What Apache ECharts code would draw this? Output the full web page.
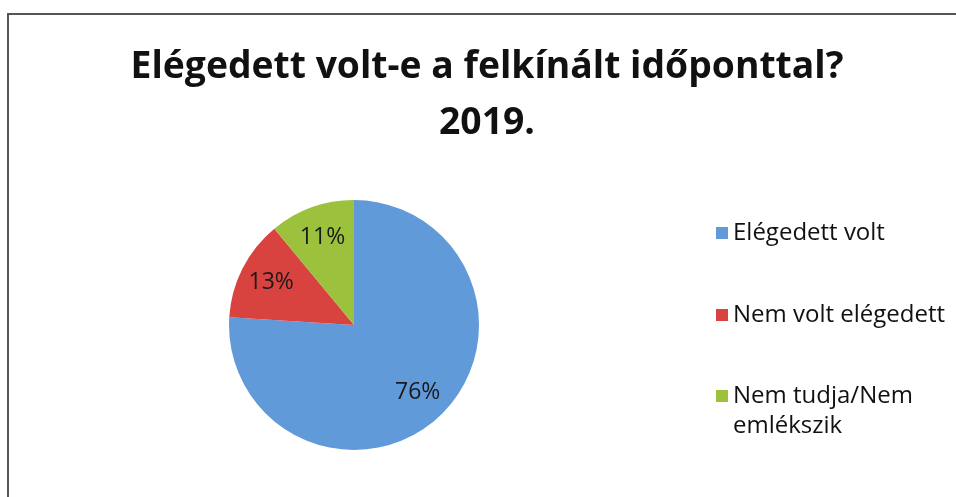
<!DOCTYPE html>
<html>
<head>
<meta charset="utf-8">
<script src="https://cdn.jsdelivr.net/npm/echarts@6/dist/echarts.min.js"></script>
<style>
  html, body { margin: 0; padding: 0; background: #ffffff; }
  #chart { width: 956px; height: 497px; }
</style>
</head>
<body>
<div id="chart"></div>
<script>
// Survey answers (percent of respondents)
const categories = ['Elégedett volt', 'Nem volt elégedett', 'Nem tudja/Nem\nemlékszik'];
const shares = [76, 13, 11];
const colors = ['#619ad8', '#d8423f', '#9cc23d'];

const titleText = 'Elégedett volt-e a felkínált időponttal?\n2019.';
const FONT = '"Open Sans", "DejaVu Sans", sans-serif';

const pieData = categories.map((name, i) => ({
  name: name,
  value: shares[i],
  itemStyle: { color: colors[i] }
}));

const legendText = {
  fontFamily: FONT,
  fontSize: 24,
  lineHeight: 30,
  color: '#111'
};

function legendFor(i, top, formatter) {
  return {
    data: [categories[i]],
    orient: 'vertical',
    left: 716,
    top: top,
    padding: 0,
    itemWidth: 12,
    itemHeight: 12,
    itemGap: 0,
    icon: 'rect',
    selectedMode: false,
    formatter: formatter || '{name}',
    textStyle: legendText
  };
}

const chart = echarts.init(document.getElementById('chart'), null, { renderer: 'canvas' });

chart.setOption({
  backgroundColor: '#ffffff',
  animation: false,
  title: {
    text: titleText,
    left: 482,
    top: 34,
    textAlign: 'center',
    textStyle: {
      fontFamily: FONT,
      fontWeight: 'bold',
      fontSize: 37.3,
      lineHeight: 56,
      color: '#111'
    }
  },
  legend: [
    legendFor(0, 218),
    legendFor(1, 300),
    // two-line entry: an empty leading line keeps the first line beside the marker
    legendFor(2, 351, '\n{name}')
  ],
  graphic: [{
    type: 'polyline',
    shape: { points: [[8, 497], [8, 14], [956, 14]] },
    style: { stroke: '#555555', lineWidth: 2, fill: null },
    silent: true
  }],
  series: [
    {
      type: 'pie',
      center: [354, 325],
      radius: [0, 125],
      startAngle: 90,
      clockwise: true,
      data: pieData,
      label: { show: false },
      labelLine: { show: false },
      emphasis: { disabled: true }
    },
    {
      // transparent ring that only carries the percentage labels
      type: 'pie',
      center: [354, 325],
      radius: [55, 125],
      startAngle: 90,
      clockwise: true,
      silent: true,
      legendHoverLink: false,
      data: categories.map((name, i) => ({ name: name, value: shares[i] })),
      itemStyle: { color: 'rgba(0,0,0,0)' },
      label: {
        show: true,
        position: 'inside',
        formatter: '{c}%',
        fontFamily: FONT,
        fontSize: 23,
        color: '#1a1a1a'
      },
      labelLine: { show: false },
      emphasis: { disabled: true }
    }
  ]
});
</script>
</body>
</html>
